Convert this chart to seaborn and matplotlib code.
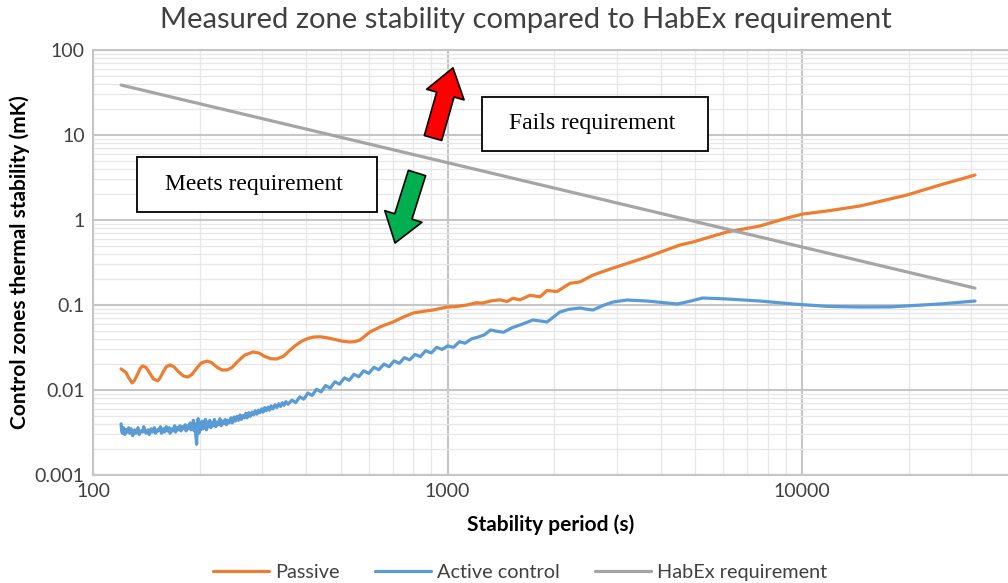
import matplotlib
matplotlib.use("Agg")
import matplotlib.pyplot as plt
from matplotlib.patches import Rectangle, FancyArrowPatch
from matplotlib.ticker import LogLocator, FixedLocator, FixedFormatter, NullFormatter
import seaborn as sns
import pandas as pd

# ---- data -------------------------------------------------------------
passive_period = [120, 124, 126, 129, 131, 134, 136, 138, 141, 145, 148, 152,
                  154, 158, 161, 165, 169, 174, 180, 185, 190, 196, 202, 210,
                  216, 224, 231, 239, 247, 257, 268, 283, 294, 305, 318, 330,
                  345, 358, 372, 388, 404, 420, 437, 460, 481, 505, 531, 550,
                  567, 604, 650, 702, 750, 800, 860, 910, 997, 1060, 1135,
                  1200, 1259, 1330, 1406, 1472, 1530, 1601, 1709, 1824, 1909,
                  2037, 2216, 2365, 2573, 2930, 3654, 4527, 4925, 6140, 7612,
                  9073, 10070, 11763, 14575, 15858, 19780, 24500, 30760]
passive_mk = [0.0177, 0.0160, 0.0140, 0.0121, 0.0130, 0.0158, 0.0180, 0.0192,
              0.0185, 0.0155, 0.0135, 0.0128, 0.0135, 0.0165, 0.0188, 0.0197,
              0.0188, 0.0165, 0.0146, 0.0142, 0.0152, 0.0180, 0.0208, 0.0219,
              0.0210, 0.0185, 0.0172, 0.0172, 0.0185, 0.0220, 0.0258, 0.0280,
              0.0272, 0.0248, 0.0233, 0.0232, 0.0250, 0.0290, 0.0333, 0.0375,
              0.0405, 0.0420, 0.0423, 0.0410, 0.0393, 0.0375, 0.0367, 0.0372,
              0.0388, 0.0481, 0.0560, 0.0631, 0.0720, 0.0805, 0.0845, 0.0873,
              0.0947, 0.0960, 0.1000, 0.1060, 0.1056, 0.1120, 0.1150, 0.1100,
              0.1200, 0.1150, 0.1300, 0.1250, 0.1480, 0.1440, 0.1800, 0.1870,
              0.2250, 0.2720, 0.367, 0.508, 0.551, 0.723, 0.85, 1.056, 1.177,
              1.276, 1.462, 1.585, 1.968, 2.58, 3.38]

active_period = [120, 120.5, 121, 122, 123, 124, 125, 126, 127, 128, 129.5,
                 131, 132, 134, 135, 136, 138, 139, 141, 143, 144, 146, 147,
                 149, 150, 152, 153, 155, 156, 158, 159, 161, 162, 164, 165,
                 167, 168, 170, 171, 173, 174, 176, 177, 179, 180, 182, 183,
                 185, 186, 188, 189, 191, 192, 193, 194, 195, 196, 197, 198,
                 199, 200, 201.5, 203, 204.5, 206, 207.5, 209, 210.5, 212,
                 213.5, 215, 217, 218, 220, 222, 224, 226, 228, 230, 232, 234,
                 236, 238, 240, 242, 245, 247, 250, 252, 255, 257, 260, 262,
                 265, 267, 270, 272, 275, 278, 281, 284, 287, 290, 293, 296,
                 299, 302, 305, 308, 312, 315, 318, 322, 326, 330, 334, 338,
                 342, 346, 350, 355, 364, 373, 383, 393, 404, 415, 427, 440,
                 453, 467, 481, 496, 512, 528, 545, 562, 580, 600, 620, 640,
                 662, 684, 707, 731, 756, 782, 810, 838, 868, 900, 932, 966,
                 1000, 1040, 1080, 1120, 1170, 1220, 1270, 1323, 1380, 1440,
                 1520, 1600, 1700, 1741, 1820, 1909, 1990, 2076, 2200, 2365,
                 2480, 2573, 2750, 2930, 3213, 3654, 4162, 4449, 4800, 5240,
                 6140, 7612, 9435, 11763, 14575, 17710, 24500, 30760]
active_mk = [0.0040, 0.0033, 0.0031, 0.0036, 0.0030, 0.0034, 0.0032, 0.0036,
             0.0031, 0.0035, 0.0029, 0.0034, 0.0031, 0.0036, 0.0030, 0.0033,
             0.0032, 0.0037, 0.0031, 0.0034, 0.0030, 0.0035, 0.0032, 0.0036,
             0.0031, 0.0034, 0.0033, 0.0037, 0.0031, 0.0035, 0.0032, 0.0037,
             0.0033, 0.0036, 0.0031, 0.0035, 0.0033, 0.0038, 0.0032, 0.0036,
             0.0034, 0.0038, 0.0033, 0.0037, 0.0035, 0.0039, 0.0033, 0.0038,
             0.0035, 0.0041, 0.0034, 0.0039, 0.0044, 0.0033, 0.0040, 0.0029,
             0.0023, 0.0038, 0.0046, 0.0031, 0.0041, 0.0034, 0.0043, 0.0035,
             0.0039, 0.0045, 0.0034, 0.0042, 0.0037, 0.0044, 0.0036, 0.0041,
             0.0038, 0.0045, 0.0037, 0.0042, 0.0039, 0.0046, 0.0038, 0.0043,
             0.0040, 0.0045, 0.0039, 0.0044, 0.0041, 0.0047, 0.0041, 0.0048,
             0.0043, 0.0049, 0.0044, 0.0051, 0.0045, 0.0050, 0.0047, 0.0053,
             0.0047, 0.0054, 0.0049, 0.0055, 0.0051, 0.0057, 0.0052, 0.0058,
             0.0054, 0.0060, 0.0055, 0.0062, 0.0057, 0.0063, 0.0058, 0.0065,
             0.0060, 0.0067, 0.0062, 0.0069, 0.0064, 0.0071, 0.0066, 0.0073,
             0.0068, 0.0076, 0.0071, 0.0083, 0.0078, 0.0092, 0.0086, 0.0102,
             0.0095, 0.0113, 0.0105, 0.0125, 0.0117, 0.0139, 0.0130, 0.0153,
             0.0143, 0.0168, 0.0157, 0.0185, 0.0173, 0.0202, 0.0188, 0.0220,
             0.0206, 0.0240, 0.0226, 0.0262, 0.0247, 0.0290, 0.0273, 0.0318,
             0.0300, 0.0330, 0.0318, 0.0370, 0.0355, 0.0400, 0.0420, 0.0445,
             0.0508, 0.0490, 0.0478, 0.0540, 0.0582, 0.0640, 0.0667, 0.0650,
             0.0631, 0.0720, 0.0828, 0.0890, 0.0922, 0.0890, 0.0873, 0.0990,
             0.1084, 0.1145, 0.1114, 0.1056, 0.1028, 0.1100, 0.1208, 0.1177,
             0.1114, 0.1028, 0.0965, 0.0947, 0.0950, 0.1028, 0.1114]

habex_period = [120, 30760]
habex_mk = [38.7, 0.158]

x_ticks = [100, 1000, 10000]
x_tick_labels = ["100", "1000", "10000"]
y_ticks = [0.001, 0.01, 0.1, 1, 10, 100]
y_tick_labels = ["0.001", "0.01", "0.1", "1", "10", "100"]

series = [("Passive", passive_period, passive_mk, "#ED7D31"),
          ("Active control", active_period, active_mk, "#5B9BD5"),
          ("HabEx requirement", habex_period, habex_mk, "#A5A5A5")]

# ---- figure -----------------------------------------------------------
sns.set_theme(style="white")
plt.rcParams["font.family"] = ["Lato", "DejaVu Sans"]

fig = plt.figure(figsize=(10.08, 5.83), dpi=100)
ax = fig.add_axes([93 / 1008, 108 / 583, 915 / 1008, 425 / 583])

for name, per, val, col in series:
    df = pd.DataFrame({"period": per, "mk": val})
    sns.lineplot(data=df, x="period", y="mk", ax=ax, color=col, lw=2.3,
                 label=name, estimator=None, sort=True)

ax.set_xscale("log")
ax.set_yscale("log")
ax.set_xlim(100, 10 ** (2 + 915 / 354.5))
ax.set_ylim(0.001, 100)

ax.xaxis.set_major_locator(FixedLocator(x_ticks))
ax.xaxis.set_major_formatter(FixedFormatter(x_tick_labels))
ax.yaxis.set_major_locator(FixedLocator(y_ticks))
ax.yaxis.set_major_formatter(FixedFormatter(y_tick_labels))
ax.xaxis.set_minor_locator(LogLocator(base=10, subs=range(2, 10)))
ax.yaxis.set_minor_locator(LogLocator(base=10, subs=range(2, 10)))
ax.xaxis.set_minor_formatter(NullFormatter())
ax.yaxis.set_minor_formatter(NullFormatter())

ax.grid(which="major", color="#c6c6c6", lw=1.5)
ax.grid(which="minor", color="#e7e7e7", lw=0.9)
ax.set_axisbelow(True)
ax.tick_params(which="both", length=0)
ax.tick_params(axis="both", labelsize=14, colors="#404040", pad=6)

ax.spines["right"].set_visible(False)
for side in ("left", "bottom", "top"):
    ax.spines[side].set_color("#c6c6c6")
    ax.spines[side].set_linewidth(1.5)

ax.set_xlabel("Stability period (s)", fontsize=15, fontweight="bold",
              color="black", labelpad=10)
ax.set_ylabel("Control zones thermal stability (mK)", fontsize=15,
              fontweight="bold", color="black", labelpad=3)
fig.text(0.522, 0.966, "Measured zone stability compared to HabEx requirement",
         ha="center", va="center", fontsize=21, color="#404040")

# ---- annotation boxes and arrows --------------------------------------
boxes = [((0.0481, 0.619), 0.2623, 0.129, "Meets requirement", (0.176, 0.684)),
         ((0.4251, 0.762), 0.2470, 0.127, "Fails requirement", (0.546, 0.826))]
for (x0, y0), w, h, txt, (tx, ty) in boxes:
    ax.add_patch(Rectangle((x0, y0), w, h, transform=ax.transAxes,
                           facecolor="white", edgecolor="black", lw=1.3,
                           zorder=5))
    ax.text(tx, ty, txt, transform=ax.transAxes, ha="center", va="center",
            fontsize=17, family="Liberation Serif", color="black", zorder=6)

arrow_style = "simple,head_length=20,head_width=28,tail_width=13"
for (xa, ya), (xb, yb), col in [((0.3716, 0.793), (0.3934, 0.958), "#ff0000"),
                                ((0.3541, 0.7106), (0.3301, 0.5459), "#00b050")]:
    ax.add_patch(FancyArrowPatch((xa, ya), (xb, yb), transform=ax.transAxes,
                                 arrowstyle=arrow_style, mutation_scale=1,
                                 shrinkA=0, shrinkB=0, facecolor=col,
                                 edgecolor="black", lw=1.2, zorder=6,
                                 clip_on=False))

# ---- legend -----------------------------------------------------------
handles, labels = ax.get_legend_handles_labels()
ax.get_legend().remove()
fig.legend(handles, labels, loc="center", bbox_to_anchor=(0.516, 0.018),
           ncol=3, frameon=False, fontsize=14.3, handlelength=2.8,
           columnspacing=1.8, handletextpad=0.3, labelcolor="#404040")

fig.savefig("out.png", dpi=100)
